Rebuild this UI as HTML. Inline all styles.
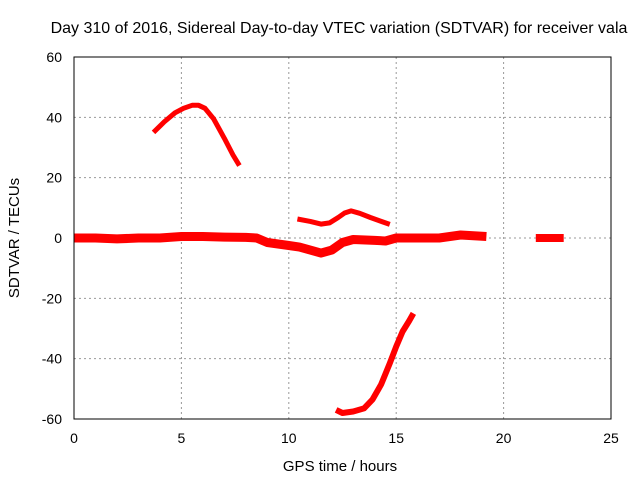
<!DOCTYPE html>
<html><head><meta charset="utf-8"><style>
body{margin:0;background:#fff;}
svg{display:block;font-family:"Liberation Sans",sans-serif;}
</style></head><body>
<svg id="chart" width="640" height="480">
<text x="339" y="33" text-anchor="middle" font-size="16">Day 310 of 2016, Sidereal Day-to-day VTEC variation (SDTVAR) for receiver vala</text>
<text x="340" y="471" text-anchor="middle" font-size="15">GPS time / hours</text>
<text transform="translate(19,238) rotate(-90)" text-anchor="middle" font-size="15">SDTVAR / TECUs</text>
<g id="grid"></g><g id="ticks"></g><g id="marks"></g>
<rect x="74" y="57" width="537" height="362" fill="none" stroke="#000" stroke-width="1"/>
</svg>
<script>
const xTicks=[0,5,10,15,20,25];
const yTicks=[60,40,20,0,-20,-40,-60];
const mainX=[0,1,2,3,4,5,6,7,8,8.5,9,10,10.5,11,11.5,12,12.5,13,14,14.5,15,16,17,18,19.2];
const mainY=[0,0,-0.3,0,0,0.5,0.5,0.3,0.2,0,-1.5,-2.5,-3,-4,-5,-4,-1.5,-0.5,-0.8,-1,0,0,0,1,0.5];
const lateX=[21.5,22.8];
const lateY=[0,0];
const arcX=[3.7,4.2,4.7,5.1,5.5,5.8,6.1,6.5,7,7.4,7.7];
const arcY=[35,38.5,41.5,43,44,44,43,39.5,33,27.5,24];
const bumpX=[10.4,11,11.5,11.9,12.3,12.6,12.9,13.3,13.8,14.3,14.7];
const bumpY=[6.3,5.5,4.6,5,6.8,8.3,9,8.2,6.8,5.5,4.5];
const dropX=[12.2,12.5,13,13.5,13.9,14.3,14.7,15,15.3,15.6,15.8];
const dropY=[-57,-58,-57.5,-56.5,-53.5,-48.5,-41.5,-36,-31,-27.5,-25];
const X0=74,X1=611,Y0=419,Y1=57;
const sx=v=>X0+(v-0)/(25-0)*(X1-X0);
const sy=v=>Y0-(v+60)/120*(Y0-Y1);
const NS="http://www.w3.org/2000/svg";
const g=document.getElementById('grid'),t=document.getElementById('ticks'),m=document.getElementById('marks');
function mk(tag,attrs,parent){const e=document.createElementNS(NS,tag);for(const k in attrs)e.setAttribute(k,attrs[k]);parent.appendChild(e);return e;}
xTicks.forEach(v=>{
  const x=sx(v);
  if(v>0&&v<25){const l=mk('line',{x1:x,x2:x,y1:Y1,y2:Y0,stroke:'#999','stroke-dasharray':'2,3'},g);
  
  }
  const tx=mk('text',{x:x,y:443,'text-anchor':'middle','font-size':14},t);
  tx.textContent=v;
  
  
});
yTicks.forEach(v=>{
  const y=sy(v);
  if(v>-60&&v<60){const l=mk('line',{x1:X0,x2:X1,y1:y,y2:y,stroke:'#999','stroke-dasharray':'2,3'},g);
  
  }
  const tx=mk('text',{x:62,y:y+5,'text-anchor':'end','font-size':14},t);
  tx.textContent=v;
  
  
});
function series(xs,ys,w,name){
  const pts=xs.map((x,i)=>sx(x).toFixed(1)+','+sy(ys[i]).toFixed(1)).join(' ');
  const p=mk('polyline',{points:pts,fill:'none',stroke:'#f00','stroke-width':w,'stroke-linejoin':'round'},m);
  
  
}
series(mainX,mainY,9,'series-main');
series(lateX,lateY,8,'series-late');
series(arcX,arcY,5,'series-arc');
series(bumpX,bumpY,5,'series-bump');
series(dropX,dropY,6,'series-drop');
</script>
</body></html>
